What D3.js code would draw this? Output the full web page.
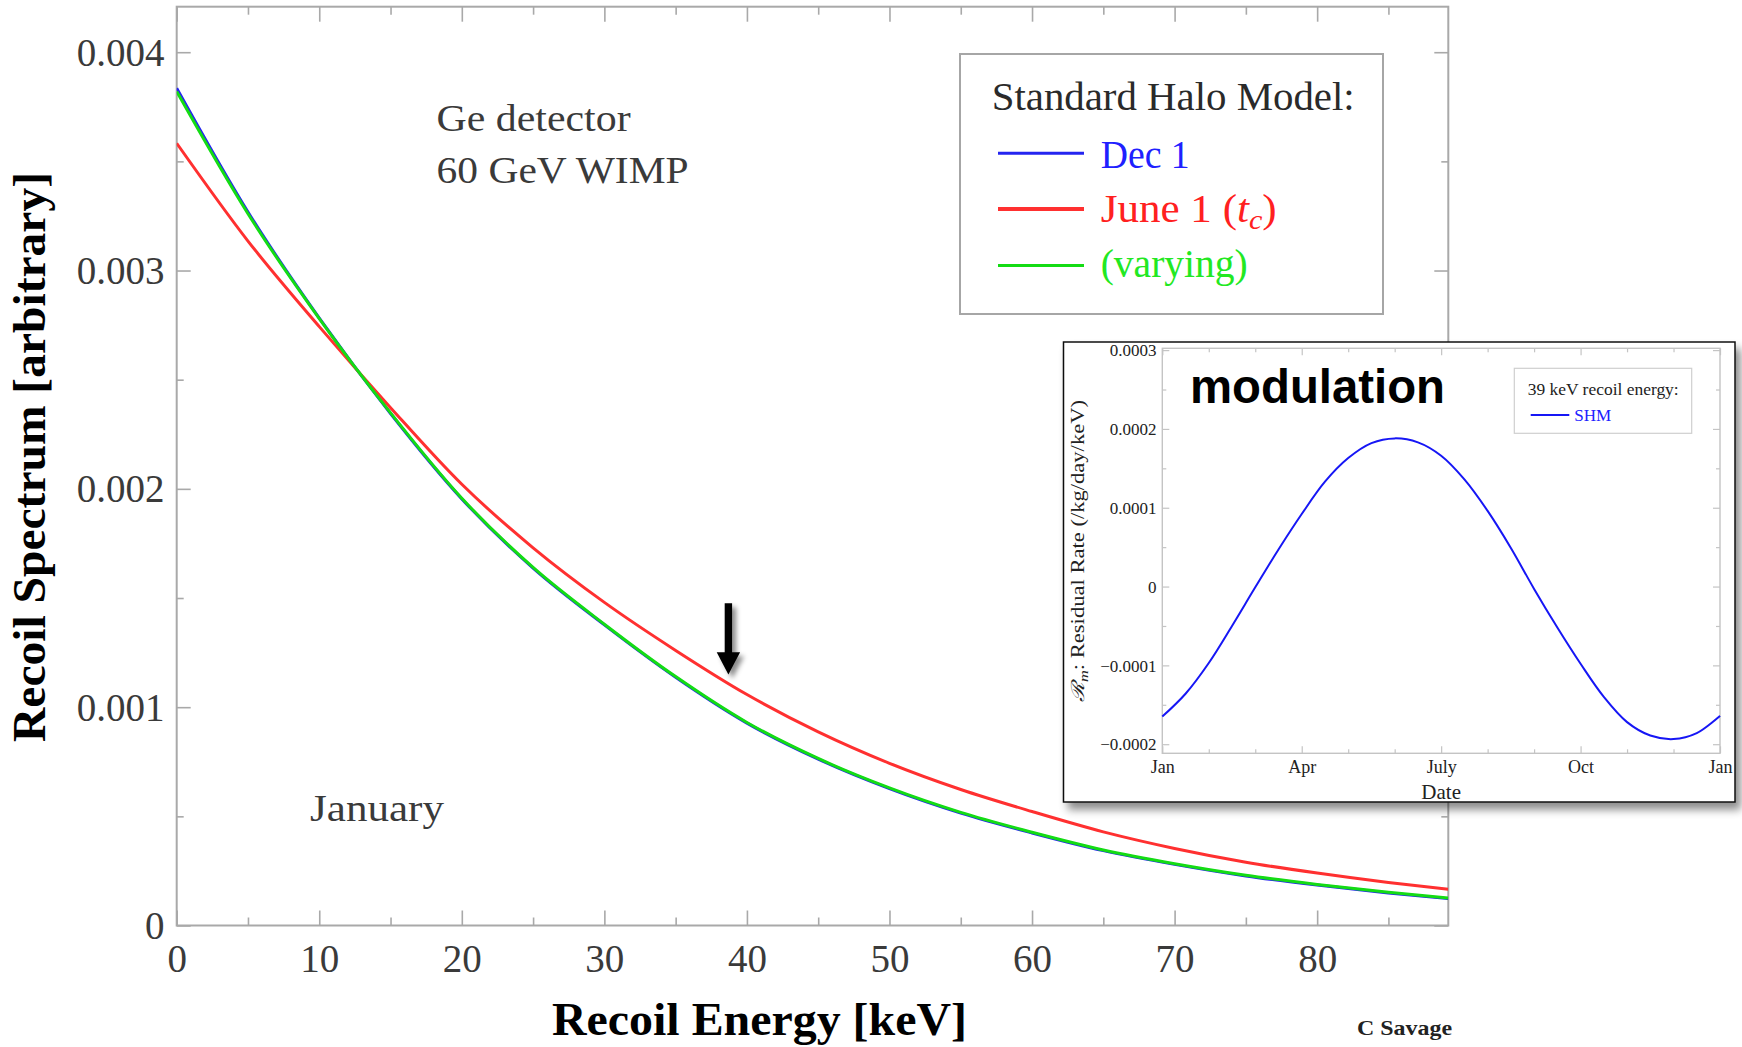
<!DOCTYPE html>
<html>
<head>
<meta charset="utf-8">
<script src="https://cdn.jsdelivr.net/npm/d3@7"></script>
<style>
  html, body { margin: 0; padding: 0; background: #fff; }
  svg { display: block; }
</style>
</head>
<body>
<svg id="chart" width="1742" height="1047"></svg>
<script>
// ---- Recoil spectrum, Ge detector, 60 GeV WIMP (arbitrary units) ----
const energyKeV       = [0, 5, 10, 15, 20, 25, 30, 35, 40, 45, 50, 55, 60, 65, 70, 75, 80, 85, 89.2];
const spectrumDec1    = [0.003835, 0.003268, 0.002782, 0.002345, 0.001954, 0.001637, 0.001377, 0.001137, 0.000927, 0.000762, 0.000627, 0.000515, 0.000424, 0.000343, 0.000280, 0.000227, 0.000185, 0.000149, 0.000123];
const spectrumJune1   = [0.003583, 0.003135, 0.002743, 0.002372, 0.002021, 0.001730, 0.001480, 0.001260, 0.001058, 0.000887, 0.000743, 0.000623, 0.000522, 0.000429, 0.000353, 0.000290, 0.000240, 0.000197, 0.000166];
const spectrumVarying = [0.003820, 0.003260, 0.002780, 0.002348, 0.001957, 0.001640, 0.001380, 0.001140, 0.000930, 0.000765, 0.000630, 0.000518, 0.000427, 0.000346, 0.000283, 0.000230, 0.000188, 0.000152, 0.000126];

const energyTicks        = [0, 10, 20, 30, 40, 50, 60, 70, 80];
const energyTickLabels   = ["0", "10", "20", "30", "40", "50", "60", "70", "80"];
const spectrumTicks      = [0, 0.001, 0.002, 0.003, 0.004];
const spectrumTickLabels = ["0", "0.001", "0.002", "0.003", "0.004"];

const seriesLabels = ["Dec 1", "June 1", "(varying)"];
const seriesColors = ["#2424f0", "#ff3030", "#14dc14"];
const textColors   = ["#2020ff", "#ff2020", "#22e822"];

// ---- Annual modulation of the residual rate at 39 keV ----
const monthPos      = [0, 0.5, 1, 1.5, 2, 2.5, 3, 3.5, 4, 4.5, 5, 5.5, 6, 6.5, 7, 7.5, 8, 8.5, 9, 9.5, 10, 10.5, 11, 11.5, 12];
const residualSHM   = [-0.000165, -0.000136, -0.000097, -0.000050, -0.000001, 0.000047, 0.000092, 0.000133, 0.000163, 0.000182, 0.000188, 0.000183, 0.000166, 0.000136, 0.000096, 0.000049, -0.000003, -0.000052, -0.000098, -0.000140, -0.000172, -0.000189, -0.0001935, -0.000186, -0.000164];
const monthTicks      = [0, 3, 6, 9, 12];
const monthTickLabels = ["Jan", "Apr", "July", "Oct", "Jan"];
const residualTicks      = [-0.0002, -0.0001, 0, 0.0001, 0.0002, 0.0003];
const residualTickLabels = ["\u22120.0002", "\u22120.0001", "0", "0.0001", "0.0002", "0.0003"];

const SERIF = "'Liberation Serif', 'DejaVu Serif', serif";
const SANS  = "'Liberation Sans', Arial, sans-serif";
const INK   = "#3a3a3a";

const svg = d3.select("#chart");
const defs = svg.append("defs");

// soft drop shadows for the arrow and the inset panel
const fArrow = defs.append("filter").attr("id", "arrowShadow")
  .attr("x", "-50%").attr("y", "-50%").attr("width", "200%").attr("height", "200%");
fArrow.append("feDropShadow").attr("dx", 4).attr("dy", 4).attr("stdDeviation", 2.5)
  .attr("flood-color", "#000").attr("flood-opacity", 0.45);
const fPanel = defs.append("filter").attr("id", "panelShadow")
  .attr("x", "-10%").attr("y", "-10%").attr("width", "120%").attr("height", "125%");
fPanel.append("feDropShadow").attr("dx", 5).attr("dy", 7).attr("stdDeviation", 4)
  .attr("flood-color", "#000").attr("flood-opacity", 0.45);

svg.append("rect").attr("width", 1742).attr("height", 1047).attr("fill", "#fff");

// ================= main spectrum plot =================
const x = d3.scaleLinear().domain([0, 89.2]).range([176.7, 1448.3]);
const y = d3.scaleLinear().domain([0, 0.004]).range([925.5, 52.2]);
const plotTop = 6.7;

const main = svg.append("g");
const frameColor = "#a9a9a9";

defs.append("clipPath").attr("id", "plotClip").append("rect")
  .attr("x", x.range()[0]).attr("y", plotTop)
  .attr("width", x.range()[1] - x.range()[0]).attr("height", y.range()[0] - plotTop);

function styleAxis(g) {
  g.select(".domain").remove();
  g.selectAll(".tick line").attr("stroke", frameColor).attr("stroke-width", 1.6);
}

const minorE = x.ticks(18).filter(d => !energyTicks.includes(d));
const minorS = y.ticks(8).filter(d => !spectrumTicks.some(t => Math.abs(t - d) < 1e-9));

// bottom
const gB = main.append("g").attr("transform", `translate(0,${y(0)})`)
  .call(d3.axisBottom(x).tickValues(energyTicks).tickSizeInner(-15).tickSizeOuter(0)
    .tickFormat((d, i) => energyTickLabels[i]));
styleAxis(gB);
gB.selectAll(".tick text").attr("y", 46.5).attr("dy", 0)
  .attr("font-family", SERIF).attr("font-size", 39).attr("fill", INK);
styleAxis(main.append("g").attr("transform", `translate(0,${y(0)})`)
  .call(d3.axisBottom(x).tickValues(minorE).tickSizeInner(-8).tickSizeOuter(0).tickFormat("")));
// top
styleAxis(main.append("g").attr("transform", `translate(0,${plotTop})`)
  .call(d3.axisTop(x).tickValues(energyTicks).tickSizeInner(-15).tickSizeOuter(0).tickFormat("")));
styleAxis(main.append("g").attr("transform", `translate(0,${plotTop})`)
  .call(d3.axisTop(x).tickValues(minorE).tickSizeInner(-8).tickSizeOuter(0).tickFormat("")));
// left
const gL = main.append("g").attr("transform", `translate(${x(0)},0)`)
  .call(d3.axisLeft(y).tickValues(spectrumTicks).tickSizeInner(-14).tickSizeOuter(0)
    .tickFormat((d, i) => spectrumTickLabels[i]));
styleAxis(gL);
gL.selectAll(".tick text").attr("x", -12.3).attr("dy", "0.33em")
  .attr("font-family", SERIF).attr("font-size", 39).attr("fill", INK);
styleAxis(main.append("g").attr("transform", `translate(${x(0)},0)`)
  .call(d3.axisLeft(y).tickValues(minorS).tickSizeInner(-7).tickSizeOuter(0).tickFormat("")));
// right
styleAxis(main.append("g").attr("transform", `translate(${x.range()[1]},0)`)
  .call(d3.axisRight(y).tickValues(spectrumTicks).tickSizeInner(-14).tickSizeOuter(0).tickFormat("")));
styleAxis(main.append("g").attr("transform", `translate(${x.range()[1]},0)`)
  .call(d3.axisRight(y).tickValues(minorS).tickSizeInner(-7).tickSizeOuter(0).tickFormat("")));

// frame
main.append("rect")
  .attr("x", x.range()[0]).attr("y", plotTop)
  .attr("width", x.range()[1] - x.range()[0]).attr("height", y(0) - plotTop)
  .attr("fill", "none").attr("stroke", frameColor).attr("stroke-width", 2);

// curves
const series = [spectrumDec1, spectrumJune1, spectrumVarying];
const line = d3.line().x(d => x(d[0])).y(d => y(d[1])).curve(d3.curveMonotoneX);
const curves = main.append("g").attr("clip-path", "url(#plotClip)");
series.forEach((vals, i) => {
  curves.append("path")
    .datum(energyKeV.map((e, k) => [e, vals[k]]))
    .attr("d", line)
    .attr("fill", "none")
    .attr("stroke", seriesColors[i])
    .attr("stroke-width", 3)
    .attr("stroke-linejoin", "round");
});

// annotations
main.append("text").attr("x", 436.6).attr("y", 131)
  .attr("font-family", SERIF).attr("font-size", 37).attr("fill", INK)
  .attr("textLength", 194).attr("lengthAdjust", "spacingAndGlyphs").text("Ge detector");
main.append("text").attr("x", 436.6).attr("y", 183)
  .attr("font-family", SERIF).attr("font-size", 37).attr("fill", INK)
  .attr("textLength", 252).attr("lengthAdjust", "spacingAndGlyphs").text("60 GeV WIMP");
main.append("text").attr("x", 310).attr("y", 821)
  .attr("font-family", SERIF).attr("font-size", 37).attr("fill", INK)
  .attr("textLength", 134).attr("lengthAdjust", "spacingAndGlyphs").text("January");

// legend
const lg = main.append("g");
lg.append("rect").attr("x", 960).attr("y", 54).attr("width", 423).attr("height", 260)
  .attr("fill", "#fff").attr("stroke", "#a6a6a6").attr("stroke-width", 2);
lg.append("text").attr("x", 991.7).attr("y", 110)
  .attr("font-family", SERIF).attr("font-size", 40).attr("fill", "#2a2a2a")
  .attr("textLength", 363).attr("lengthAdjust", "spacingAndGlyphs").text("Standard Halo Model:");
const rowLineY = [153.3, 209, 265.5];
const rowTextY = [168, 222, 277];
const rowTextLen = [89, 176, 147];
seriesLabels.forEach((lab, i) => {
  lg.append("line").attr("x1", 998).attr("x2", 1084).attr("y1", rowLineY[i]).attr("y2", rowLineY[i])
    .attr("stroke", seriesColors[i]).attr("stroke-width", i === 1 ? 4 : 3);
  const t = lg.append("text").attr("x", 1100.7).attr("y", rowTextY[i])
    .attr("font-family", SERIF).attr("font-size", 40).attr("fill", textColors[i])
    .attr("textLength", rowTextLen[i]).attr("lengthAdjust", "spacingAndGlyphs");
  if (i === 1) {
    t.append("tspan").text(lab + " (");
    t.append("tspan").attr("font-style", "italic").text("t");
    t.append("tspan").attr("font-style", "italic").attr("font-size", 28).attr("dy", 7).text("c");
    t.append("tspan").attr("dy", -7).text(")");
  } else {
    t.text(lab);
  }
});

// arrow pointing at the 39 keV region of the June 1 curve
const arrowAt = { energy: 38.7, value: 0.00115 };
const ax = x(arrowAt.energy), ay = y(arrowAt.value);
main.append("path")
  .attr("d", `M${ax - 3.7},${ay - 71.3} L${ax + 3.7},${ay - 71.3} L${ax + 3.7},${ay - 22.3}
              L${ax + 11.7},${ay - 22.3} L${ax},${ay} L${ax - 11.7},${ay - 22.3} L${ax - 3.7},${ay - 22.3} Z`)
  .attr("fill", "#000").attr("filter", "url(#arrowShadow)");

// axis titles
svg.append("text")
  .attr("transform", "translate(45,457) rotate(-90)")
  .attr("text-anchor", "middle")
  .attr("font-family", SERIF).attr("font-weight", "bold").attr("font-size", 46).attr("fill", "#000")
  .attr("textLength", 570).attr("lengthAdjust", "spacingAndGlyphs")
  .text("Recoil Spectrum [arbitrary]");
svg.append("text")
  .attr("x", 759.5).attr("y", 1035)
  .attr("text-anchor", "middle")
  .attr("font-family", SERIF).attr("font-weight", "bold").attr("font-size", 46).attr("fill", "#000")
  .attr("textLength", 415).attr("lengthAdjust", "spacingAndGlyphs")
  .text("Recoil Energy [keV]");
svg.append("text")
  .attr("x", 1357).attr("y", 1035)
  .attr("font-family", SERIF).attr("font-weight", "bold").attr("font-size", 22).attr("fill", "#222")
  .attr("textLength", 95).attr("lengthAdjust", "spacingAndGlyphs")
  .text("C Savage");

// ================= inset: modulation =================
const inset = svg.append("g");
inset.append("rect").attr("x", 1063.5).attr("y", 342).attr("width", 671.5).attr("height", 460)
  .attr("fill", "#fff").attr("stroke", "#111").attr("stroke-width", 1.5)
  .attr("filter", "url(#panelShadow)");

const xi = d3.scaleLinear().domain([0, 12]).range([1162.3, 1720]);
const yi = d3.scaleLinear().domain([-0.0002, 0.0003]).range([744.2, 350.1]);
const iTop = 348.3, iBot = 753.3;
const insetColor = "#c4c4c4";

function styleInsetAxis(g) {
  g.select(".domain").remove();
  g.selectAll(".tick line").attr("stroke", insetColor).attr("stroke-width", 1.2);
}
const minorMonths = d3.range(0, 13).filter(d => !monthTicks.includes(d));
const minorResid = d3.range(-4, 6).map(k => k * 0.00005).filter(d => !residualTicks.some(t => Math.abs(t - d) < 1e-9));

const gIB = inset.append("g").attr("transform", `translate(0,${iBot})`)
  .call(d3.axisBottom(xi).tickValues(monthTicks).tickSizeInner(-7).tickSizeOuter(0)
    .tickFormat((d, i) => monthTickLabels[i]));
styleInsetAxis(gIB);
gIB.selectAll(".tick text").attr("y", 20).attr("dy", 0)
  .attr("font-family", SERIF).attr("font-size", 18).attr("fill", "#222");
styleInsetAxis(inset.append("g").attr("transform", `translate(0,${iBot})`)
  .call(d3.axisBottom(xi).tickValues(minorMonths).tickSizeInner(-4).tickSizeOuter(0).tickFormat("")));
styleInsetAxis(inset.append("g").attr("transform", `translate(0,${iTop})`)
  .call(d3.axisTop(xi).tickValues(monthTicks).tickSizeInner(-7).tickSizeOuter(0).tickFormat("")));
styleInsetAxis(inset.append("g").attr("transform", `translate(0,${iTop})`)
  .call(d3.axisTop(xi).tickValues(minorMonths).tickSizeInner(-4).tickSizeOuter(0).tickFormat("")));

const gIL = inset.append("g").attr("transform", `translate(${xi(0)},0)`)
  .call(d3.axisLeft(yi).tickValues(residualTicks).tickSizeInner(-7).tickSizeOuter(0)
    .tickFormat((d, i) => residualTickLabels[i]));
styleInsetAxis(gIL);
gIL.selectAll(".tick text").attr("x", -5.8).attr("dy", "0.33em")
  .attr("font-family", SERIF).attr("font-size", 17).attr("fill", "#222");
styleInsetAxis(inset.append("g").attr("transform", `translate(${xi(0)},0)`)
  .call(d3.axisLeft(yi).tickValues(minorResid).tickSizeInner(-4).tickSizeOuter(0).tickFormat("")));
styleInsetAxis(inset.append("g").attr("transform", `translate(${xi(12)},0)`)
  .call(d3.axisRight(yi).tickValues(residualTicks).tickSizeInner(-7).tickSizeOuter(0).tickFormat("")));
styleInsetAxis(inset.append("g").attr("transform", `translate(${xi(12)},0)`)
  .call(d3.axisRight(yi).tickValues(minorResid).tickSizeInner(-4).tickSizeOuter(0).tickFormat("")));

inset.append("rect").attr("x", xi(0)).attr("y", iTop)
  .attr("width", xi(12) - xi(0)).attr("height", iBot - iTop)
  .attr("fill", "none").attr("stroke", insetColor).attr("stroke-width", 1.4);

const iline = d3.line().x(d => xi(d[0])).y(d => yi(d[1])).curve(d3.curveCatmullRom.alpha(0.5));
inset.append("path")
  .datum(monthPos.map((m, k) => [m, residualSHM[k]]))
  .attr("d", iline)
  .attr("fill", "none").attr("stroke", "#1616f5").attr("stroke-width", 2);

// inset legend
inset.append("rect").attr("x", 1514.3).attr("y", 368.3).attr("width", 177.4).attr("height", 65)
  .attr("fill", "#fff").attr("stroke", "#cfcfcf").attr("stroke-width", 1.2);
inset.append("text").attr("x", 1527.7).attr("y", 395)
  .attr("font-family", SERIF).attr("font-size", 17).attr("fill", "#222")
  .attr("textLength", 151).attr("lengthAdjust", "spacingAndGlyphs").text("39 keV recoil energy:");
inset.append("line").attr("x1", 1530.7).attr("x2", 1569.3).attr("y1", 415).attr("y2", 415)
  .attr("stroke", "#1616f5").attr("stroke-width", 1.8);
inset.append("text").attr("x", 1574.3).attr("y", 421)
  .attr("font-family", SERIF).attr("font-size", 17).attr("fill", "#2020ff")
  .attr("textLength", 37).attr("lengthAdjust", "spacingAndGlyphs").text("SHM");

// inset titles
inset.append("text").attr("x", 1190).attr("y", 403)
  .attr("font-family", SANS).attr("font-weight", "bold").attr("font-size", 48).attr("fill", "#000")
  .attr("textLength", 255).attr("lengthAdjust", "spacingAndGlyphs").text("modulation");
inset.append("text").attr("x", xi(6)).attr("y", 799)
  .attr("text-anchor", "middle")
  .attr("font-family", SERIF).attr("font-size", 21).attr("fill", "#222").text("Date");
const yl = inset.append("text")
  .attr("transform", "translate(1084,551) rotate(-90)")
  .attr("text-anchor", "middle")
  .attr("font-family", SERIF).attr("font-size", 18).attr("fill", "#222")
  .attr("textLength", 302).attr("lengthAdjust", "spacingAndGlyphs");
yl.append("tspan").attr("font-style", "italic").text("\u211B");
yl.append("tspan").attr("font-style", "italic").attr("font-size", 13).attr("dy", 4).text("m");
yl.append("tspan").attr("dy", -4).text(":  Residual Rate (/kg/day/keV)");
</script>
</body>
</html>
